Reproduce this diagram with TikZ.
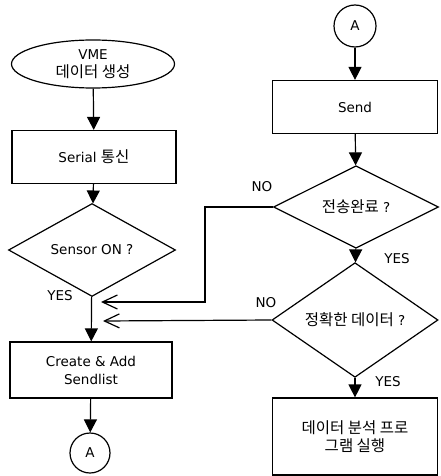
\documentclass[tikz,border=0pt]{standalone}
\usepackage{fontspec}
\setmainfont{DejaVu Sans}
\newfontfamily\krfont{Noto Sans CJK KR}
\newcommand{\kr}[1]{{\krfont\fontsize{15.5}{18}\selectfont #1}}
\usetikzlibrary{shapes.geometric,arrows.meta}
\begin{document}
\begin{tikzpicture}[x=1pt,y=-1pt,
  every node/.style={font=\fontsize{13.5}{18}\selectfont},
  proc/.style={draw,line width=1.2pt,rectangle,inner sep=0pt,align=center},
  dec/.style={draw,line width=1.2pt,diamond,inner sep=0pt,align=center},
  term/.style={draw,line width=1.2pt,ellipse,inner sep=0pt,align=center},
  conn/.style={draw,line width=1.2pt,circle,inner sep=0pt},
  flow/.style={line width=1.2pt,-{Triangle[length=13pt,width=13pt]}},
  back/.style={line width=1.2pt,-{Straight Barb[length=15pt,width=14pt,line width=1.2pt]}},
  lbl/.style={inner sep=0pt}]
\useasboundingbox (0,0) rectangle (440,476);
\node[term,minimum width=163pt,minimum height=48pt] (start) at (93,64) {VME\\\kr{데이터 생성}};
\node[proc,minimum width=164pt,minimum height=53pt] (serial) at (94,157) {Serial \kr{통신}};
\node[dec,minimum width=167pt,minimum height=65pt] (sensor) at (92,250) {Sensor ON ?};
\node[proc,minimum width=162pt,minimum height=56pt] (create) at (91,370) {Create \& Add\\Sendlist};
\node[conn,minimum size=40pt] (a1) at (90,453) {A};
\node[conn,minimum size=42pt] (a2) at (355,26) {A};
\node[proc,minimum width=165pt,minimum height=53pt] (send) at (355,107) {Send};
\node[dec,minimum width=165pt,minimum height=70pt] (done) at (356,207) {\kr{전송완료} ?};
\node[dec,minimum width=166pt,minimum height=86pt] (correct) at (355,320) {\kr{정확한 데이터} ?};
\node[proc,minimum width=165pt,minimum height=77pt] (run) at (355,436.5) {\kr{데이터 분석 프로}\\\kr{그램 실행}};
\coordinate (j1) at (101,302);
\coordinate (j2) at (103,321);
\coordinate (k1) at (205,207);
\coordinate (k2) at (205,302);
\draw[flow] (start) -- (serial);
\draw[flow] (serial) -- (sensor);
\draw[flow] (sensor) -- (create);
\draw[flow] (create) -- (a1);
\draw[flow] (a2) -- (send);
\draw[flow] (send) -- (done);
\draw[flow] (done) -- (correct);
\draw[flow] (correct) -- (run);
\draw[back] (done.west) -- (k1) -- (k2) -- (j1);
\draw[back] (correct.west) -- (j2);
\node[lbl] (y1) at (60,296) {YES};
\node[lbl] (n1) at (262,187) {NO};
\node[lbl] (y2) at (397,259) {YES};
\node[lbl] (n2) at (266,303) {NO};
\node[lbl] (y3) at (388,382) {YES};
\end{tikzpicture}
\end{document}
